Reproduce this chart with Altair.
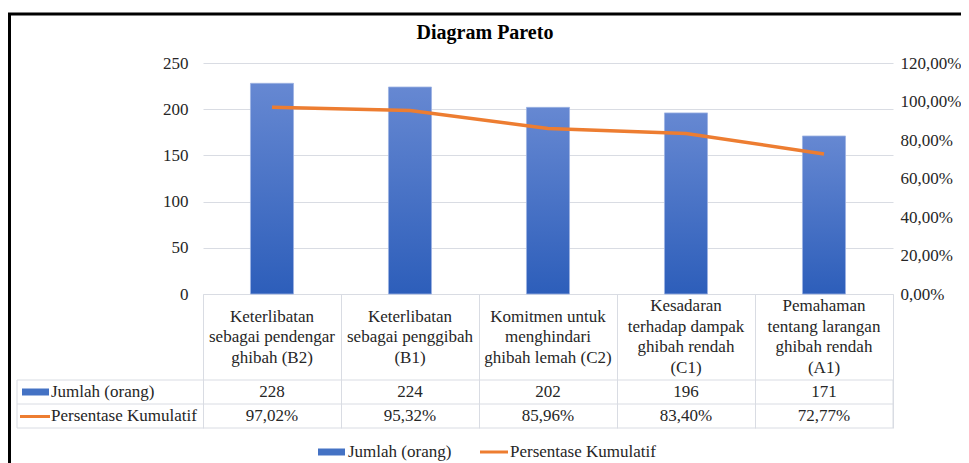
import altair as alt
import pandas as pd

# ---- data ----
categories = [
    "Keterlibatan\nsebagai pendengar\nghibah (B2)",
    "Keterlibatan\nsebagai penggibah\n(B1)",
    "Komitmen untuk\nmenghindari\nghibah lemah (C2)",
    "Kesadaran\nterhadap dampak\nghibah rendah\n(C1)",
    "Pemahaman\ntentang larangan\nghibah rendah\n(A1)",
]
jumlah = [228, 224, 202, 196, 171]
persen = [0.9702, 0.9532, 0.8596, 0.8340, 0.7277]
series = ["Jumlah (orang)", "Persentase Kumulatif"]
title_text = "Diagram Pareto"
left_ticks = [0, 50, 100, 150, 200, 250]
right_ticks = [0, 0.2, 0.4, 0.6, 0.8, 1.0, 1.2]

df = pd.DataFrame({"cat": categories, "jumlah": jumlah, "pct": persen})
one = pd.DataFrame({"k": [0]})  # single row for decorations

FONT = "Liberation Serif"
TXT = "#262626"
GRID = "#D9DCE3"
BLUE = "#4472C4"
ORANGE = "#ED7D31"
W, H = 690, 231
LH = 20.5

xaxis = alt.Axis(labels=False, title=None, ticks=True, tickBand="extent",
                 tickSize=134, tickColor=GRID, domainColor=GRID, grid=False)
xenc = alt.X("cat:N", sort=categories,
             scale=alt.Scale(paddingInner=0, paddingOuter=0), axis=xaxis)

base = alt.Chart(df)

bars = base.mark_bar(
    width=alt.RelativeBandSize(0.312),
    color=alt.Gradient(
        gradient="linear",
        stops=[alt.GradientStop(color="#6688D2", offset=0),
               alt.GradientStop(color="#2D5EBA", offset=1)],
        x1=1, x2=1, y1=0, y2=1),
    stroke="#9DB3E2", strokeWidth=0.8,
).encode(
    x=xenc,
    y=alt.Y("jumlah:Q", scale=alt.Scale(domain=[0, 250]),
            axis=alt.Axis(values=left_ticks, title=None, domain=False, ticks=False,
                          grid=True, gridColor=GRID, labelFont=FONT, labelFontSize=17,
                          labelColor=TXT, labelPadding=15)),
)

line = base.mark_line(color=ORANGE, strokeWidth=3.5).encode(
    x=xenc,
    y=alt.Y("pct:Q", scale=alt.Scale(domain=[0, 1.2]),
            axis=alt.Axis(orient="right", values=right_ticks, title=None, domain=False,
                          ticks=False, grid=False, labelFont=FONT, labelFontSize=17,
                          labelColor=TXT, labelPadding=7,
                          labelExpr="replace(format(datum.value, '.2%'), '.', ',')")),
)

txt_kw = dict(font=FONT, fontSize=17, color=TXT, baseline="middle")

# category labels, vertically centred in the label row (centre at y=274)
def cat_layer(nlines):
    return base.transform_calculate(
        n="length(split(datum.cat, '\\n'))"
    ).transform_filter(f"datum.n == {nlines}").mark_text(
        lineBreak="\n", lineHeight=LH, align="center", **txt_kw
    ).encode(x=xenc, y=alt.value(274 - (nlines - 1) * LH / 2), text="cat:N")

cat3 = cat_layer(3)
cat4 = cat_layer(4)

num_row = base.mark_text(align="center", **txt_kw).encode(
    x=xenc, y=alt.value(329), text=alt.Text("jumlah:Q", format="d"))

pct_row = base.transform_calculate(
    lbl="replace(format(datum.pct, '.2%'), '.', ',')"
).mark_text(align="center", **txt_kw).encode(
    x=xenc, y=alt.value(353), text="lbl:N")

deco = alt.Chart(one)

# table frame
frame = deco.mark_rect(fillOpacity=0, stroke=GRID, strokeWidth=1).encode(
    x=alt.value(-186), x2=alt.value(W), y=alt.value(317), y2=alt.value(365))
mid_rule = deco.mark_rule(color=GRID, strokeWidth=1).encode(
    x=alt.value(-186), x2=alt.value(W), y=alt.value(341))

# row headers
hdr1_sw = deco.mark_rect(color=BLUE).encode(
    x=alt.value(-181), x2=alt.value(-154), y=alt.value(325.5), y2=alt.value(332.5))
hdr1_tx = deco.mark_text(align="left", text=series[0], **txt_kw).encode(
    x=alt.value(-152), y=alt.value(329))
hdr2_sw = deco.mark_rule(color=ORANGE, strokeWidth=3).encode(
    x=alt.value(-183), x2=alt.value(-153), y=alt.value(353.5))
hdr2_tx = deco.mark_text(align="left", text=series[1], **txt_kw).encode(
    x=alt.value(-152), y=alt.value(353))

# legend
leg1_sw = deco.mark_rect(color=BLUE).encode(
    x=alt.value(115), x2=alt.value(142), y=alt.value(385.5), y2=alt.value(392.5))
leg1_tx = deco.mark_text(align="left", text=series[0], **txt_kw).encode(
    x=alt.value(145), y=alt.value(389))
leg2_sw = deco.mark_rule(color=ORANGE, strokeWidth=3).encode(
    x=alt.value(277), x2=alt.value(305), y=alt.value(389))
leg2_tx = deco.mark_text(align="left", text=series[1], **txt_kw).encode(
    x=alt.value(307), y=alt.value(389))

# title and outer border
title = deco.mark_text(text=title_text, font=FONT, fontSize=20, fontWeight="bold",
                       color="black", align="center", baseline="alphabetic").encode(
    x=alt.value(282), y=alt.value(-24))
border = deco.mark_rect(fillOpacity=0, stroke="black", strokeWidth=3).encode(
    x=alt.value(-193.5), x2=alt.value(900), y=alt.value(-49), y2=alt.value(500))

chart = alt.layer(
    bars, line, cat3, cat4, num_row, pct_row, frame, mid_rule,
    hdr1_sw, hdr1_tx, hdr2_sw, hdr2_tx, leg1_sw, leg1_tx, leg2_sw, leg2_tx,
    title, border,
).resolve_scale(y="independent").properties(
    width=W, height=H,
    autosize=alt.AutoSizeParams(type="none"),
    padding={"left": 195, "top": 55, "right": 68, "bottom": 169},
).configure_view(stroke=None)

chart.save("out.html", embed_options={"renderer": "svg", "actions": False})
